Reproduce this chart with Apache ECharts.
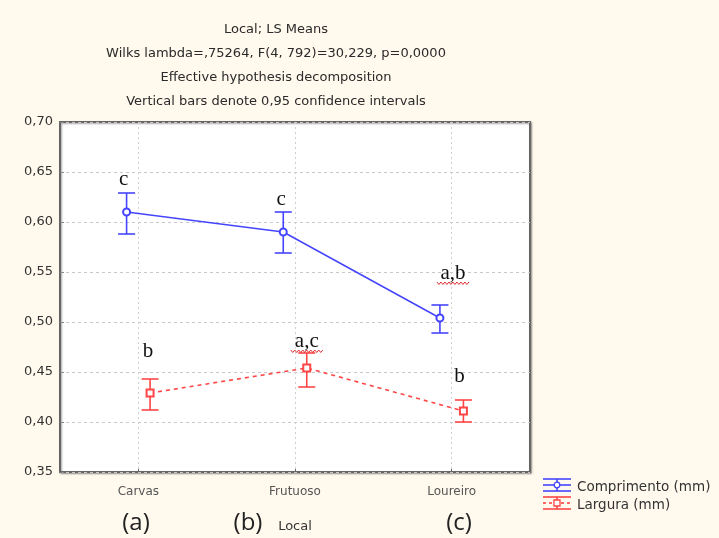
<!DOCTYPE html>
<html>
<head>
<meta charset="utf-8">
<script src="https://cdn.jsdelivr.net/npm/echarts@6/dist/echarts.min.js"></script>
<style>html,body{margin:0;padding:0;background:#FFF9EE;}#c{width:719px;height:538px;}</style>
</head>
<body>
<div id="c"></div>
<script>
// ---- data ----
const categories = ['Carvas', 'Frutuoso', 'Loureiro'];
const compMean = [0.610, 0.590, 0.504];
const compLow  = [0.588, 0.569, 0.489];
const compHigh = [0.629, 0.610, 0.517];
const largMean = [0.429, 0.454, 0.411];
const largLow  = [0.412, 0.435, 0.400];
const largHigh = [0.443, 0.469, 0.422];
const compLetters = ['c', 'c', 'a,b'];
const compLetterY = [0.643, 0.623, 0.549];
const largLetters = ['b', 'a,c', 'b'];
const largLetterY = [0.471, 0.481, 0.446];
const yTicks = [0.35, 0.40, 0.45, 0.50, 0.55, 0.60, 0.65, 0.70];
const titleLines = ['Local; LS Means', 'Wilks lambda=,75264, F(4, 792)=30,229, p=0,0000', 'Effective hypothesis decomposition', 'Vertical bars denote 0,95 confidence intervals'];
const seriesNames = ['Comprimento (mm)', 'Largura (mm)'];
const panelTags = ['(a)', '(b)', '(c)'];

// ---- styling ----
const BLUE = '#4545ff', RED = '#ff4545';
const FONT = '"DejaVu Sans", Verdana, sans-serif';
const OFF = 0.075; // horizontal dodge of the two series, in category units
const COMP_LETTER_DX = [-3, -2, 13];
const LARG_LETTER_DX = [-2, 0, -4];
const xPos = (i, s) => i + 0.5 + s * OFF;

function pts(mean, s) { return mean.map((m, i) => [xPos(i, s), m]); }
function bars(mean, lo, hi, s) { return mean.map((m, i) => [xPos(i, s), m, lo[i], hi[i]]); }

function errRender(color) {
  return function (params, api) {
    const x = api.value(0);
    const top = api.coord([x, api.value(3)]);
    const bot = api.coord([x, api.value(2)]);
    const w = 8.5;
    const st = { stroke: color, lineWidth: 1.6 };
    return { type: 'group', children: [
      { type: 'line', shape: { x1: top[0], y1: top[1], x2: bot[0], y2: bot[1] }, style: st },
      { type: 'line', shape: { x1: top[0] - w, y1: top[1], x2: top[0] + w, y2: top[1] }, style: st },
      { type: 'line', shape: { x1: bot[0] - w, y1: bot[1], x2: bot[0] + w, y2: bot[1] }, style: st }
    ]};
  };
}

function letterRender(letters, dxs) {
  return function (params, api) {
    const i = params.dataIndex;
    const p = api.coord([api.value(0), api.value(1)]);
    const txt = letters[i];
    const cx = p[0] + dxs[i];
    const children = [{ type: 'text', x: cx, y: p[1],
      style: { text: txt, fill: '#111', font: '21px "Liberation Serif", "DejaVu Serif", serif', align: 'center', verticalAlign: 'middle' } }];
    if (txt.length > 1) {
      const pts2 = [];
      const x0 = cx - 16, y0 = p[1] + 10;
      for (let k = 0; k <= 16; k++) pts2.push([x0 + k * 2, y0 + (k % 2 ? 1.5 : -1)]);
      children.push({ type: 'polyline', shape: { points: pts2 }, style: { stroke: '#e03030', lineWidth: 1, fill: null } });
    }
    return { type: 'group', children: children };
  };
}

const chart = echarts.init(document.getElementById('c'), null, { renderer: 'canvas' });

function legendIcon(y0, color, dashed, marker) {
  const st = { stroke: color, lineWidth: 1.6 };
  const items = [
    { type: 'line', shape: { x1: 1, y1: y0, x2: 29, y2: y0 }, style: st },
    { type: 'line', shape: { x1: 1, y1: y0 + 12, x2: 29, y2: y0 + 12 }, style: st },
    { type: 'line', shape: { x1: 15, y1: y0, x2: 15, y2: y0 + 12 }, style: st },
    { type: 'line', shape: { x1: 1, y1: y0 + 6, x2: 29, y2: y0 + 6 }, style: Object.assign({}, st, dashed ? { lineDash: [3, 3] } : {}) }
  ];
  if (marker === 'circle') items.push({ type: 'circle', shape: { cx: 15, cy: y0 + 6, r: 2.8 }, style: { stroke: color, fill: '#fff', lineWidth: 1.3 } });
  else items.push({ type: 'rect', shape: { x: 12, y: y0 + 3, width: 6, height: 6 }, style: { stroke: color, fill: '#fff', lineWidth: 1.3 } });
  return items;
}

const legendGraphic = {
  type: 'group', x: 542, y: 478,
  children: [].concat(
    legendIcon(1, BLUE, false, 'circle'),
    [{ type: 'text', x: 35, y: 9, style: { text: seriesNames[0], fill: '#333', font: '13.5px ' + FONT, verticalAlign: 'middle' } }],
    legendIcon(19, RED, true, 'rect'),
    [{ type: 'text', x: 35, y: 27, style: { text: seriesNames[1], fill: '#333', font: '13.5px ' + FONT, verticalAlign: 'middle' } }]
  )
};

const tagXs = [136, 248, 459];
const tagGraphics = panelTags.map((t, i) => ({
  type: 'text', x: tagXs[i], y: 523,
  style: { text: t, fill: '#222', font: '24px "Open Sans", "Noto Sans", sans-serif', align: 'center', verticalAlign: 'middle' }
}));

chart.setOption({
  backgroundColor: '#FFF9EE',
  animation: false,
  title: {
    text: titleLines.join('\n'),
    left: 271, top: 13, textAlign: 'center',
    textStyle: { fontFamily: FONT, fontSize: 13, fontWeight: 'normal', color: '#2a2a2a', lineHeight: 24 }
  },
  grid: {
    left: 60, top: 122, width: 470, height: 352, show: true,
    backgroundColor: '#fff', borderColor: '#666', borderWidth: 2,
    shadowColor: 'rgba(0,0,0,0.35)', shadowBlur: 2, shadowOffsetX: 1, shadowOffsetY: 1
  },
  xAxis: [
    {
      type: 'category', data: categories, boundaryGap: true,
      name: 'Local', nameLocation: 'middle', nameGap: 48,
      nameTextStyle: { fontFamily: FONT, fontSize: 13, color: '#333' },
      axisLine: { show: false },
      axisTick: { show: true, alignWithLabel: true, inside: true, length: 3, lineStyle: { color: '#666' } },
      axisLabel: { margin: 14, fontFamily: FONT, fontSize: 12, color: '#555' },
      splitLine: { show: true, alignWithLabel: true, lineStyle: { color: '#d0d0d0', type: [2, 3] } }
    },
    { type: 'value', min: 0, max: 3, show: false }
  ],
  yAxis: {
    type: 'value', min: yTicks[0], max: yTicks[yTicks.length - 1], interval: 0.05,
    axisLine: { show: false },
    axisTick: { show: true, inside: true, length: 4, lineStyle: { color: '#888' } },
    axisLabel: { margin: 7, fontFamily: FONT, fontSize: 13, color: '#333',
      formatter: v => v.toFixed(2).replace('.', ',') },
    splitLine: { show: true, lineStyle: { color: '#c8c8c8', type: [3, 3] } }
  },
  series: [
    { type: 'custom', name: seriesNames[0] + ' CI', xAxisIndex: 1, renderItem: errRender(BLUE), data: bars(compMean, compLow, compHigh, -1), z: 3 },
    { type: 'custom', name: seriesNames[1] + ' CI', xAxisIndex: 1, renderItem: errRender(RED), data: bars(largMean, largLow, largHigh, 1), z: 3 },
    { type: 'line', name: seriesNames[0], xAxisIndex: 1, data: pts(compMean, -1),
      lineStyle: { color: BLUE, width: 1.5 }, itemStyle: { color: BLUE, borderColor: BLUE, borderWidth: 1.3 },
      symbol: 'emptyCircle', symbolSize: 7, z: 4 },
    { type: 'line', name: seriesNames[1], xAxisIndex: 1, data: pts(largMean, 1),
      lineStyle: { color: RED, width: 1.6, type: [4, 4] }, itemStyle: { color: RED, borderColor: RED, borderWidth: 1.3 },
      symbol: 'emptyRect', symbolSize: 7, z: 4 },
    { type: 'custom', xAxisIndex: 1, renderItem: letterRender(compLetters, COMP_LETTER_DX),
      data: compLetterY.map((y, i) => [xPos(i, -1), y]), z: 5 },
    { type: 'custom', xAxisIndex: 1, renderItem: letterRender(largLetters, LARG_LETTER_DX),
      data: largLetterY.map((y, i) => [xPos(i, 1), y]), z: 5 }
  ],
  graphic: [legendGraphic].concat(tagGraphics)
});
</script>
</body>
</html>
